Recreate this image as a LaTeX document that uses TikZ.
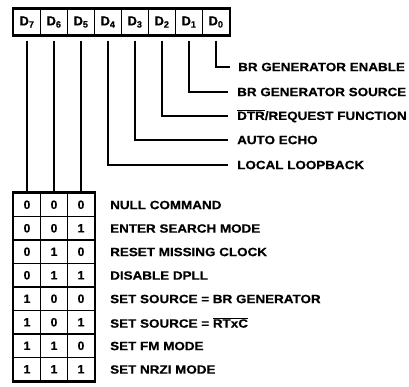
\documentclass[tikz,border=0pt]{standalone}
\usepackage{fontspec}
\setmainfont[FakeBold=0.5]{Liberation Sans}
\newfontfamily\labfont[FakeStretch=1.12,FakeBold=0.5]{Liberation Sans}
\begin{document}
\begin{tikzpicture}[x=1pt,y=-1pt,
  lab/.style={anchor=west, inner sep=0pt, font=\labfont\bfseries\fontsize{12}{12}\selectfont},
  regcell/.style={draw, line width=1.2pt, minimum width=27pt, minimum height=26pt, inner sep=0pt, font=\bfseries\fontsize{13}{13}\selectfont},
  tcell/.style={draw, line width=1.7pt, minimum width=27pt, minimum height=23.5pt, inner sep=0pt, font=\bfseries\fontsize{12}{12}\selectfont},
  wire/.style={line width=2pt}]
\useasboundingbox (0,0) rectangle (409,386);
% register
\foreach \i in {0,...,7}{
  \pgfmathsetmacro\xx{13+27*(7-\i)+14}
  \node[regcell] (d\i) at (\xx,22) {D\textsubscript{\i}};
}
\draw[line width=2.2pt] (d7.north west) rectangle (d0.south east);
% table
\foreach \r/\a/\b/\c in {0/0/0/0,1/0/0/1,2/0/1/0,3/0/1/1,4/1/0/0,5/1/0/1,6/1/1/0,7/1/1/1}{
  \pgfmathsetmacro\yy{193+23.5*\r+11.75}
  \node[tcell] (t\r a) at (27,\yy) {\a};
  \node[tcell] (t\r b) at (54,\yy) {\b};
  \node[tcell] (t\r c) at (81,\yy) {\c};
}
\draw[line width=2pt] (t0a.north west) rectangle (t7c.south east);
% row labels
\node[lab] (c0) at (110,205) {NULL COMMAND};
\node[lab] (c1) at (110,228.5) {ENTER SEARCH MODE};
\node[lab] (c2) at (110,252) {RESET MISSING CLOCK};
\node[lab] (c3) at (110,275.5) {DISABLE DPLL};
\node[lab] (c4) at (110,299) {SET SOURCE = BR GENERATOR};
\node[lab] (c5) at (110,322.5) {SET SOURCE = $\overline{\mbox{RTxC}}$};
\node[lab] (c6) at (110,346) {SET FM MODE};
\node[lab] (c7) at (110,369.5) {SET NRZI MODE};
% upper labels
\node[lab] (l0) at (238,67) {BR GENERATOR ENABLE};
\node[lab] (l1) at (237,92) {BR GENERATOR SOURCE};
\node[lab] (l2) at (237,116) {$\overline{\mbox{DTR}}$/REQUEST FUNCTION};
\node[lab] (l3) at (237,140) {AUTO ECHO};
\node[lab] (l4) at (237,165) {LOCAL LOOPBACK};
% wires
\draw[wire] ([yshift=-5pt]d7.south) -- (t0a.north);
\draw[wire] ([yshift=-5pt]d6.south) -- (t0b.north);
\draw[wire] ([yshift=-5pt]d5.south) -- (t0c.north);
\draw[wire] ([yshift=-5pt]d4.south) |- ([xshift=-9pt]l4.west);
\draw[wire] ([yshift=-5pt]d3.south) |- ([xshift=-9pt]l3.west);
\draw[wire] ([yshift=-5pt]d2.south) |- ([xshift=-9pt]l2.west);
\draw[wire] ([yshift=-5pt]d1.south) |- ([xshift=-9pt]l1.west);
\draw[wire] ([yshift=-5pt]d0.south) |- ([xshift=-8pt]l0.west);
\end{tikzpicture}
\end{document}
